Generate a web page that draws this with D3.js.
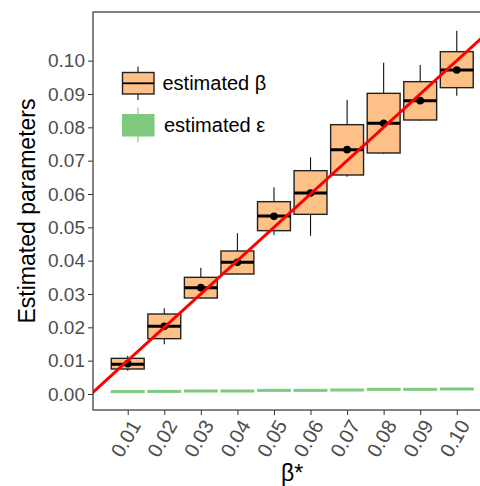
<!DOCTYPE html>
<html>
<head>
<meta charset="utf-8">
<script src="https://cdn.jsdelivr.net/npm/d3@7"></script>
<style>
  body { margin: 0; background: #fff; }
  svg { display: block; font-family: "Liberation Sans", Arial, sans-serif; }
</style>
</head>
<body>
<svg width="480" height="486"></svg>
<script>
// true beta values (x categories)
var betaTrue = [0.01, 0.02, 0.03, 0.04, 0.05, 0.06, 0.07, 0.08, 0.09, 0.10];
// estimated beta box stats
var betaLow    = [0.0070, 0.0149, 0.0286, 0.0358, 0.0477, 0.0475, 0.0652, 0.0720, 0.0820, 0.0895];
var betaQ1     = [0.0075, 0.0166, 0.0288, 0.0360, 0.0490, 0.0539, 0.0657, 0.0723, 0.0822, 0.0919];
var betaMedian = [0.0089, 0.0203, 0.0319, 0.0395, 0.0534, 0.0603, 0.0733, 0.0812, 0.0880, 0.0972];
var betaQ3     = [0.0107, 0.0240, 0.0350, 0.0429, 0.0577, 0.0670, 0.0808, 0.0902, 0.0937, 0.1027];
var betaHigh   = [0.0115, 0.0257, 0.0379, 0.0482, 0.0620, 0.0710, 0.0882, 0.0994, 0.0987, 0.1090];
var betaMean   = [0.0091, 0.0203, 0.0319, 0.0395, 0.0533, 0.0603, 0.0733, 0.0812, 0.0880, 0.0972];
// estimated epsilon (tiny boxes near zero)
var epsMedian  = [0.0007, 0.0008, 0.0009, 0.0009, 0.0011, 0.0011, 0.0012, 0.0014, 0.0014, 0.0015];
var epsSpread  = 0.0003;

var yTicks = [0, 0.01, 0.02, 0.03, 0.04, 0.05, 0.06, 0.07, 0.08, 0.09, 0.10];
var boxWidth = 0.009;

var orange = "#FDC086", green = "#7FC97F";

var svg = d3.select("svg");
svg.append("rect").attr("width", 480).attr("height", 486).attr("fill", "#fff");

var x = d3.scaleLinear().domain([0.0005, 0.1095]).range([93, 491.5]);
var y = d3.scaleLinear().domain([-0.0048, 0.1146]).range([410, 12]);

svg.append("clipPath").attr("id", "panel")
  .append("rect").attr("x", 93).attr("y", 12).attr("width", 398.5).attr("height", 398);

var plot = svg.append("g").attr("clip-path", "url(#panel)");

var hw = (x(boxWidth) - x(0)) / 2;

var beta = betaTrue.map(function(b, i) {
  return {b: b, lo: betaLow[i], q1: betaQ1[i], med: betaMedian[i], q3: betaQ3[i], hi: betaHigh[i], mean: betaMean[i]};
});
var eps = betaTrue.map(function(b, i) {
  return {b: b, q1: epsMedian[i] - epsSpread, med: epsMedian[i], q3: epsMedian[i] + epsSpread};
});

// epsilon boxes
plot.selectAll(".eps").data(eps).enter().append("rect")
  .attr("x", function(d) { return x(d.b) - hw; })
  .attr("y", function(d) { return y(d.q3); })
  .attr("width", hw * 2)
  .attr("height", function(d) { return y(d.q1) - y(d.q3); })
  .attr("fill", green).attr("stroke", green).attr("stroke-width", 1);

// beta whiskers
var bg = plot.selectAll(".beta").data(beta).enter().append("g");
bg.append("line")
  .attr("x1", function(d) { return x(d.b); }).attr("x2", function(d) { return x(d.b); })
  .attr("y1", function(d) { return y(d.hi); }).attr("y2", function(d) { return y(d.q3); })
  .attr("stroke", "#111").attr("stroke-width", 1.1);
bg.append("line")
  .attr("x1", function(d) { return x(d.b); }).attr("x2", function(d) { return x(d.b); })
  .attr("y1", function(d) { return y(d.q1); }).attr("y2", function(d) { return y(d.lo); })
  .attr("stroke", "#111").attr("stroke-width", 1.1);
bg.append("rect")
  .attr("x", function(d) { return x(d.b) - hw; })
  .attr("y", function(d) { return y(d.q3); })
  .attr("width", hw * 2)
  .attr("height", function(d) { return y(d.q1) - y(d.q3); })
  .attr("fill", orange).attr("stroke", "#222").attr("stroke-width", 1.4);
bg.append("line")
  .attr("x1", function(d) { return x(d.b) - hw; }).attr("x2", function(d) { return x(d.b) + hw; })
  .attr("y1", function(d) { return y(d.med); }).attr("y2", function(d) { return y(d.med); })
  .attr("stroke", "#000").attr("stroke-width", 3);
bg.append("circle")
  .attr("cx", function(d) { return x(d.b); })
  .attr("cy", function(d) { return y(d.mean); })
  .attr("r", 3.8).attr("fill", "#000");

// y = x reference line
plot.append("line")
  .attr("x1", x(0)).attr("y1", y(0))
  .attr("x2", x(0.12)).attr("y2", y(0.12))
  .attr("stroke", "#FF0000").attr("stroke-width", 3);

// panel border
svg.append("rect").attr("x", 93).attr("y", 12).attr("width", 398.5).attr("height", 398)
  .attr("fill", "none").attr("stroke", "#333").attr("stroke-width", 1.2);

// axes
var yAxis = svg.append("g").attr("transform", "translate(93,0)")
  .call(d3.axisLeft(y).tickValues(yTicks).tickFormat(d3.format(".2f")).tickSize(5).tickPadding(3));
yAxis.select(".domain").remove();
yAxis.selectAll("line").attr("stroke", "#333");
yAxis.selectAll("text").attr("fill", "#4D4D4D").style("font-size", "19px")
  .style("font-family", "Liberation Sans, Arial, sans-serif");

var xAxis = svg.append("g").attr("transform", "translate(0,410)")
  .call(d3.axisBottom(x).tickValues(betaTrue).tickFormat(d3.format(".2f")).tickSize(5));
xAxis.select(".domain").remove();
xAxis.selectAll("line").attr("stroke", "#333");
xAxis.selectAll("text")
  .attr("fill", "#4D4D4D").style("font-size", "20px")
  .style("font-family", "Liberation Sans, Arial, sans-serif")
  .attr("text-anchor", "end")
  .attr("y", 0).attr("dy", "0.71em")
  .attr("transform", "translate(1,8) rotate(-60)");

// axis titles
svg.append("text")
  .attr("transform", "translate(35,211) rotate(-90)")
  .attr("text-anchor", "middle")
  .style("font-size", "23px").attr("fill", "#000")
  .text("Estimated parameters");
svg.append("text")
  .attr("x", 292).attr("y", 481)
  .attr("text-anchor", "middle")
  .style("font-size", "23px").attr("fill", "#000")
  .text("β*");

// legend
var legend = svg.append("g");
legend.append("line").attr("x1", 138).attr("x2", 138).attr("y1", 66.5).attr("y2", 100)
  .attr("stroke", "#111").attr("stroke-width", 1.1);
legend.append("rect").attr("x", 122.5).attr("y", 72.5).attr("width", 31.5).attr("height", 21.5)
  .attr("fill", orange).attr("stroke", "#222").attr("stroke-width", 1.4);
legend.append("line").attr("x1", 122.5).attr("x2", 154).attr("y1", 83.3).attr("y2", 83.3)
  .attr("stroke", "#000").attr("stroke-width", 1.8);
legend.append("text").attr("x", 162.5).attr("y", 89.5).style("font-size", "20px").text("estimated β");

legend.append("line").attr("x1", 138).attr("x2", 138).attr("y1", 107.5).attr("y2", 142.5)
  .attr("stroke", green).attr("stroke-width", 1.1);
legend.append("rect").attr("x", 122.5).attr("y", 114.5).attr("width", 31.5).attr("height", 21.5)
  .attr("fill", green).attr("stroke", green).attr("stroke-width", 1);
legend.append("text").attr("x", 164).attr("y", 131.5).style("font-size", "20px").text("estimated ε");
</script>
</body>
</html>
